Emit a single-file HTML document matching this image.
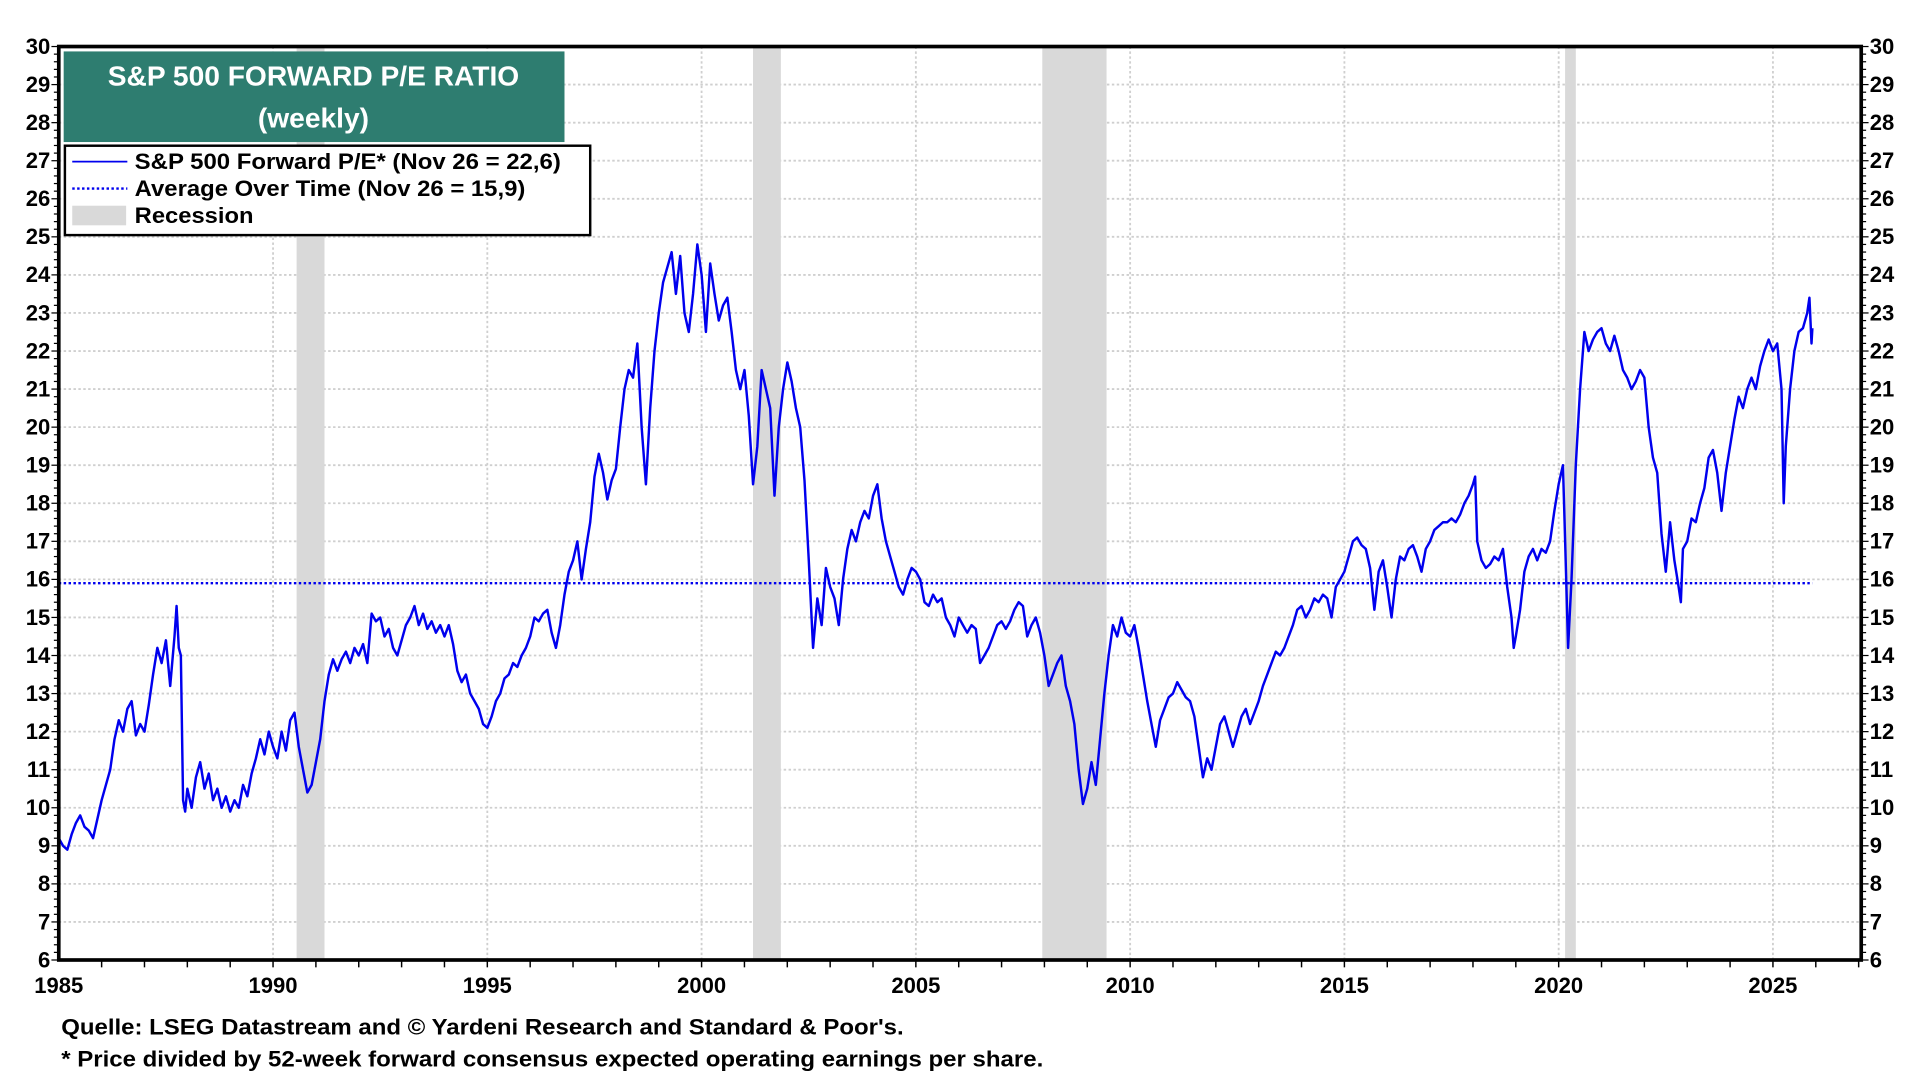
<!DOCTYPE html>
<html><head><meta charset="utf-8"><style>
html,body{margin:0;padding:0;background:#fff;width:1920px;height:1080px;overflow:hidden}
svg{display:block}
text{font-family:"Liberation Sans",Arial,sans-serif;font-weight:bold}
</style></head><body>
<svg id="chart" width="1920" height="1080" viewBox="0 0 1568 882" xmlns="http://www.w3.org/2000/svg">
<g id="grid"></g>
<g id="rec"></g>
<g id="avg"></g>
<g id="series"></g>
<g id="axes"></g>
<rect x="52" y="42" width="409" height="74" fill="#2e7d70"/>
<text x="256" y="70" fill="#fff" font-size="23" text-anchor="middle">S&amp;P 500 FORWARD P/E RATIO</text>
<text x="256" y="104" fill="#fff" font-size="23" text-anchor="middle">(weekly)</text>
<g>
<rect x="53" y="119" width="429" height="73" fill="#fff" stroke="#000" stroke-width="2"/>
<line x1="59" y1="132" x2="104" y2="132" stroke="#0000ee" stroke-width="1.5"/>
<text x="110" y="138" font-size="18" textLength="348" lengthAdjust="spacingAndGlyphs">S&amp;P 500 Forward P/E* (Nov 26 = 22,6)</text>
<line x1="59" y1="154" x2="104" y2="154" stroke="#0000ee" stroke-width="2" stroke-dasharray="2,2"/>
<text x="110" y="160" font-size="18" textLength="319" lengthAdjust="spacingAndGlyphs">Average Over Time (Nov 26 = 15,9)</text>
<rect x="59" y="168" width="44" height="16" fill="#d9d9d9"/>
<text x="110" y="182" font-size="18" textLength="97" lengthAdjust="spacingAndGlyphs">Recession</text>
</g>
<text x="50" y="845" font-size="18" textLength="688" lengthAdjust="spacingAndGlyphs">Quelle: LSEG Datastream and © Yardeni Research and Standard &amp; Poor's.</text>
<text x="50" y="871" font-size="18" textLength="802" lengthAdjust="spacingAndGlyphs">* Price divided by 52-week forward consensus expected operating earnings per share.</text>
</svg>
<script>
const years=[1985.0,1985.1,1985.2,1985.3,1985.4,1985.5,1985.6,1985.7,1985.8,1985.9,1986.0,1986.1,1986.2,1986.3,1986.4,1986.5,1986.6,1986.7,1986.8,1986.9,1987.0,1987.1,1987.2,1987.3,1987.4,1987.5,1987.6,1987.7,1987.75,1987.8,1987.85,1987.9,1987.95,1988.0,1988.1,1988.2,1988.3,1988.4,1988.5,1988.6,1988.7,1988.8,1988.9,1989.0,1989.1,1989.2,1989.3,1989.4,1989.5,1989.6,1989.7,1989.8,1989.9,1990.0,1990.1,1990.2,1990.3,1990.4,1990.5,1990.6,1990.7,1990.8,1990.9,1991.0,1991.1,1991.2,1991.3,1991.4,1991.5,1991.6,1991.7,1991.8,1991.9,1992.0,1992.1,1992.2,1992.3,1992.4,1992.5,1992.6,1992.7,1992.8,1992.9,1993.0,1993.1,1993.2,1993.3,1993.4,1993.5,1993.6,1993.7,1993.8,1993.9,1994.0,1994.1,1994.2,1994.3,1994.4,1994.5,1994.6,1994.7,1994.8,1994.9,1995.0,1995.1,1995.2,1995.3,1995.4,1995.5,1995.6,1995.7,1995.8,1995.9,1996.0,1996.1,1996.2,1996.3,1996.4,1996.5,1996.6,1996.7,1996.8,1996.9,1997.0,1997.1,1997.2,1997.3,1997.4,1997.5,1997.6,1997.7,1997.8,1997.9,1998.0,1998.1,1998.2,1998.3,1998.4,1998.5,1998.6,1998.7,1998.8,1998.9,1999.0,1999.1,1999.2,1999.3,1999.4,1999.5,1999.6,1999.7,1999.8,1999.9,2000.0,2000.1,2000.2,2000.3,2000.4,2000.5,2000.6,2000.7,2000.8,2000.9,2001.0,2001.1,2001.2,2001.3,2001.4,2001.5,2001.6,2001.7,2001.8,2001.9,2002.0,2002.1,2002.2,2002.3,2002.4,2002.5,2002.6,2002.7,2002.8,2002.9,2003.0,2003.1,2003.2,2003.3,2003.4,2003.5,2003.6,2003.7,2003.8,2003.9,2004.0,2004.1,2004.2,2004.3,2004.4,2004.5,2004.6,2004.7,2004.8,2004.9,2005.0,2005.1,2005.2,2005.3,2005.4,2005.5,2005.6,2005.7,2005.8,2005.9,2006.0,2006.1,2006.2,2006.3,2006.4,2006.5,2006.6,2006.7,2006.8,2006.9,2007.0,2007.1,2007.2,2007.3,2007.4,2007.5,2007.6,2007.7,2007.8,2007.9,2008.0,2008.1,2008.2,2008.3,2008.4,2008.5,2008.6,2008.7,2008.8,2008.9,2009.0,2009.1,2009.2,2009.3,2009.4,2009.5,2009.6,2009.7,2009.8,2009.9,2010.0,2010.1,2010.2,2010.3,2010.4,2010.5,2010.6,2010.7,2010.8,2010.9,2011.0,2011.1,2011.2,2011.3,2011.4,2011.5,2011.6,2011.7,2011.8,2011.9,2012.0,2012.1,2012.2,2012.3,2012.4,2012.5,2012.6,2012.7,2012.8,2012.9,2013.0,2013.1,2013.2,2013.3,2013.4,2013.5,2013.6,2013.7,2013.8,2013.9,2014.0,2014.1,2014.2,2014.3,2014.4,2014.5,2014.6,2014.7,2014.8,2014.9,2015.0,2015.1,2015.2,2015.3,2015.4,2015.5,2015.6,2015.7,2015.8,2015.9,2016.0,2016.1,2016.2,2016.3,2016.4,2016.5,2016.6,2016.7,2016.8,2016.9,2017.0,2017.1,2017.2,2017.3,2017.4,2017.5,2017.6,2017.7,2017.8,2017.9,2018.0,2018.05,2018.1,2018.2,2018.3,2018.4,2018.5,2018.6,2018.7,2018.8,2018.9,2018.95,2019.0,2019.1,2019.2,2019.3,2019.4,2019.5,2019.6,2019.7,2019.8,2019.9,2020.0,2020.1,2020.15,2020.22,2020.3,2020.4,2020.5,2020.6,2020.7,2020.8,2020.9,2021.0,2021.1,2021.2,2021.3,2021.4,2021.5,2021.6,2021.7,2021.8,2021.9,2022.0,2022.1,2022.2,2022.3,2022.4,2022.5,2022.6,2022.7,2022.8,2022.85,2022.9,2023.0,2023.1,2023.2,2023.3,2023.4,2023.5,2023.6,2023.7,2023.8,2023.9,2024.0,2024.1,2024.2,2024.3,2024.4,2024.5,2024.6,2024.7,2024.8,2024.9,2025.0,2025.1,2025.2,2025.25,2025.3,2025.4,2025.5,2025.6,2025.7,2025.8,2025.85,2025.9,2025.92];
const peValues=[9.2,9.0,8.9,9.3,9.6,9.8,9.5,9.4,9.2,9.7,10.2,10.6,11.0,11.8,12.3,12.0,12.6,12.8,11.9,12.2,12.0,12.7,13.5,14.2,13.8,14.4,13.2,14.5,15.3,14.2,14.0,10.2,9.9,10.5,10.0,10.8,11.2,10.5,10.9,10.2,10.5,10.0,10.3,9.9,10.2,10.0,10.6,10.3,10.9,11.3,11.8,11.4,12.0,11.6,11.3,12.0,11.5,12.3,12.5,11.6,11.0,10.4,10.6,11.2,11.8,12.8,13.5,13.9,13.6,13.9,14.1,13.8,14.2,14.0,14.3,13.8,15.1,14.9,15.0,14.5,14.7,14.2,14.0,14.4,14.8,15.0,15.3,14.8,15.1,14.7,14.9,14.6,14.8,14.5,14.8,14.3,13.6,13.3,13.5,13.0,12.8,12.6,12.2,12.1,12.4,12.8,13.0,13.4,13.5,13.8,13.7,14.0,14.2,14.5,15.0,14.9,15.1,15.2,14.6,14.2,14.8,15.6,16.2,16.5,17.0,16.0,16.8,17.5,18.7,19.3,18.8,18.1,18.6,18.9,20.0,21.0,21.5,21.3,22.2,20.0,18.5,20.5,22.0,23.0,23.8,24.2,24.6,23.5,24.5,23.0,22.5,23.5,24.8,24.0,22.5,24.3,23.5,22.8,23.2,23.4,22.5,21.5,21.0,21.5,20.3,18.5,19.5,21.5,21.0,20.5,18.2,20.0,21.0,21.7,21.2,20.5,20.0,18.6,16.5,14.2,15.5,14.8,16.3,15.8,15.5,14.8,16.0,16.8,17.3,17.0,17.5,17.8,17.6,18.2,18.5,17.6,17.0,16.6,16.2,15.8,15.6,16.0,16.3,16.2,16.0,15.4,15.3,15.6,15.4,15.5,15.0,14.8,14.5,15.0,14.8,14.6,14.8,14.7,13.8,14.0,14.2,14.5,14.8,14.9,14.7,14.9,15.2,15.4,15.3,14.5,14.8,15.0,14.6,14.0,13.2,13.5,13.8,14.0,13.2,12.8,12.2,11.0,10.1,10.5,11.2,10.6,11.8,13.0,14.0,14.8,14.5,15.0,14.6,14.5,14.8,14.2,13.5,12.8,12.2,11.6,12.3,12.6,12.9,13.0,13.3,13.1,12.9,12.8,12.4,11.6,10.8,11.3,11.0,11.6,12.2,12.4,12.0,11.6,12.0,12.4,12.6,12.2,12.5,12.8,13.2,13.5,13.8,14.1,14.0,14.2,14.5,14.8,15.2,15.3,15.0,15.2,15.5,15.4,15.6,15.5,15.0,15.8,16.0,16.2,16.6,17.0,17.1,16.9,16.8,16.3,15.2,16.2,16.5,15.8,15.0,16.0,16.6,16.5,16.8,16.9,16.6,16.2,16.8,17.0,17.3,17.4,17.5,17.5,17.6,17.5,17.7,18.0,18.2,18.5,18.7,17.0,16.5,16.3,16.4,16.6,16.5,16.8,15.8,15.0,14.2,14.5,15.2,16.2,16.6,16.8,16.5,16.8,16.7,17.0,17.8,18.5,19.0,17.0,14.2,16.0,19.0,21.0,22.5,22.0,22.3,22.5,22.6,22.2,22.0,22.4,22.0,21.5,21.3,21.0,21.2,21.5,21.3,20.0,19.2,18.8,17.2,16.2,17.5,16.5,15.8,15.4,16.8,17.0,17.6,17.5,18.0,18.4,19.2,19.4,18.8,17.8,18.8,19.5,20.2,20.8,20.5,21.0,21.3,21.0,21.6,22.0,22.3,22.0,22.2,21.0,18.0,19.5,21.0,22.0,22.5,22.6,23.0,23.4,22.2,22.6];
const averageValue=15.9;
const averageRange=[1985,2025.92];
const recStart=[1990.55,2001.2,2007.95,2020.15];
const recEnd=[1991.2,2001.85,2009.45,2020.4];
const yTicks=[6,7,8,9,10,11,12,13,14,15,16,17,18,19,20,21,22,23,24,25,26,27,28,29,30];
const xTickLabels=[1985,1990,1995,2000,2005,2010,2015,2020,2025];

const L=48,R=1520,T=38,B=784,X0=1985,X1=2027.06,Y0=6,Y1=30;
const xs=v=>L+(v-X0)/(X1-X0)*(R-L);
const ys=v=>B-(v-Y0)/(Y1-Y0)*(B-T);
const NS='http://www.w3.org/2000/svg';
function mk(tag,parent,attrs){const e=document.createElementNS(NS,tag);for(const k in attrs)e.setAttribute(k,attrs[k]);parent.appendChild(e);return e;}
const grid=document.getElementById('grid'),rec=document.getElementById('rec'),avg=document.getElementById('avg'),ser=document.getElementById('series'),axes=document.getElementById('axes');

yTicks.forEach(v=>{
  const g=mk('line',grid,{x1:L,x2:R,y1:ys(v),y2:ys(v),stroke:'#cfcfcf','stroke-width':1.5,'stroke-dasharray':'2,2'});
  
  
  const t1=mk('text',axes,{x:L-7,y:ys(v)+6,'font-size':18,'text-anchor':'end'});t1.textContent=v;
  
  
  const t2=mk('text',axes,{x:R+7,y:ys(v)+6,'font-size':18,'text-anchor':'start'});t2.textContent=v;
  
  
});
xTickLabels.forEach(v=>{
  if(v>X0){const g=mk('line',grid,{x1:xs(v),x2:xs(v),y1:T,y2:B,stroke:'#cfcfcf','stroke-width':1.5,'stroke-dasharray':'2,2'});
  
  }
  const t=mk('text',axes,{x:xs(v),y:B+27,'font-size':18,'text-anchor':'middle'});t.textContent=v;
  
  
});
for(let y=X0+1;y<X1;y++){mk('line',axes,{x1:xs(y),x2:xs(y),y1:B,y2:B+6,stroke:'#000','stroke-width':1.2});}
for(let v=Y0;v<=Y1+1e-9;v+=0.2){const big=Math.abs(v-Math.round(v))<1e-6;
  mk('line',axes,{x1:L-(big?6:4),x2:L,y1:ys(v),y2:ys(v),stroke:'#000','stroke-width':1});
  mk('line',axes,{x1:R,x2:R+(big?6:4),y1:ys(v),y2:ys(v),stroke:'#000','stroke-width':1});}
recStart.forEach((s,i)=>{
  const r=mk('rect',rec,{x:xs(s),y:T,width:xs(recEnd[i])-xs(s),height:B-T,fill:'#d9d9d9'});
  
  
});
const al=mk('line',avg,{x1:xs(averageRange[0]),x2:xs(averageRange[1]),y1:ys(averageValue),y2:ys(averageValue),stroke:'#0000ee','stroke-width':2,'stroke-dasharray':'2,2'});


const pts=years.map((y,i)=>xs(y).toFixed(1)+','+ys(peValues[i]).toFixed(1)).join(' ');
const pl=mk('polyline',ser,{points:pts,fill:'none',stroke:'#0000ee','stroke-width':2,'stroke-linejoin':'round'});


const fr=mk('rect',axes,{x:L,y:T,width:R-L,height:B-T,fill:'none',stroke:'#000','stroke-width':3});


</script>
</body></html>
